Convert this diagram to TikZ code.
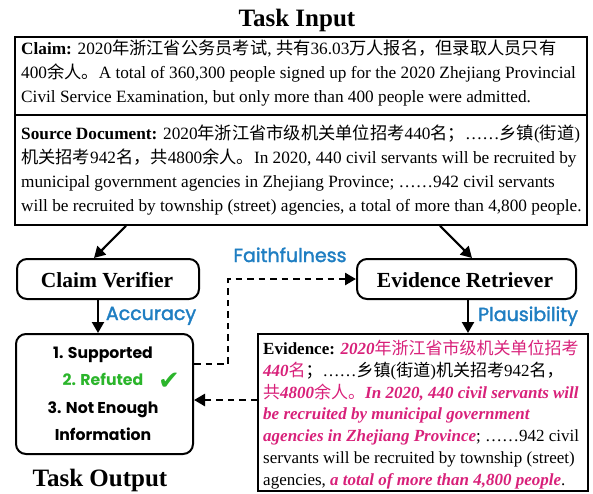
\documentclass[tikz,border=0pt]{standalone}
\usepackage{fontspec}
\setmainfont{Liberation Serif}
\newfontfamily\cjk{Noto Sans CJK SC}
\newfontfamily\popf{Poppins}
\newfontfamily\popm{Poppins}[FakeBold=1.8]
\newfontfamily\symf{DejaVu Sans}
\usetikzlibrary{arrows.meta}
\definecolor{pinkc}{HTML}{D8217A}
\definecolor{bluec}{HTML}{1F7EC2}
\definecolor{greenc}{HTML}{2BB52B}
\newcommand{\zh}[1]{{\cjk #1}}
\newcommand{\hlx}[1]{{\bfseries\itshape #1}}
\newcommand{\hlp}[1]{\textcolor{pinkc}{#1}}
\begin{document}
\begin{tikzpicture}[x=1pt,y=-1pt,
  sqbox/.style={draw,line width=1.8pt,inner sep=0pt,anchor=north west},
  rbox/.style={draw,line width=2pt,rounded corners=10pt,inner sep=0pt,anchor=north west},
  bodytext/.style={anchor=base west,align=left,inner sep=0pt,font=\fontsize{17.25}{24}\selectfont},
  evtext/.style={anchor=base west,align=left,inner sep=0pt,font=\fontsize{17}{21.7}\selectfont},
  title/.style={anchor=base,inner sep=0pt,font=\fontsize{25}{25}\selectfont\bfseries},
  modtext/.style={anchor=base,inner sep=0pt,font=\fontsize{21.5}{21.5}\selectfont\bfseries},
  metric/.style={anchor=base,inner sep=0pt,text=bluec,font=\fontsize{19}{19}\selectfont\popm},
  listtext/.style={anchor=base,inner sep=0pt,font=\fontsize{15.7}{15.7}\selectfont\popf\bfseries},
  solidarrow/.style={line width=2.2pt,-{Triangle[length=11pt,width=12pt]}},
  dasharrow/.style={line width=2.6pt,dash pattern=on 6.5pt off 5pt,-{Triangle[length=11pt,width=12pt]}}
]
\useasboundingbox (0,0) rectangle (593,493);

% Task input
\node[title] (ti) at (297,26) {Task Input};
\node[sqbox,minimum width=572pt,minimum height=78pt] (claimbox) at (14,36) {};
\node[sqbox,minimum width=572pt,minimum height=110pt] (srcbox) at (14,114) {};
% base anchor = baseline of the last line
\node[bodytext] (claimtxt) at (21,102) {\textbf{Claim:} 2020\zh{年浙江省公务员考试}, \zh{共有}36.03\zh{万人报名，但录取人员只有}\\
400\zh{余人。}A total of 360,300 people signed up for the 2020 Zhejiang Provincial\\
Civil Service Examination, but only more than 400 people were admitted.};
\node[bodytext] (srctxt) at (21,211) {\textbf{Source Document:} 2020\zh{年浙江省市级机关单位招考}440\zh{名；}……\zh{乡镇}(\zh{街道})\\
\zh{机关招考}942\zh{名，共}4800\zh{余人。}In 2020, 440 civil servants will be recruited by\\
municipal government agencies in Zhejiang Province; ……942 civil servants\\
will be recruited by township (street) agencies, a total of more than 4,800 people.};

% Modules
\node[rbox,minimum width=182pt,minimum height=40pt] (cv) at (16,258) {};
\node[modtext] (cvt) at (107,287) {Claim Verifier};
\node[rbox,minimum width=219pt,minimum height=40pt] (er) at (356,258) {};
\node[modtext] (ert) at (465,287) {Evidence Retriever};

% Output
\node[rbox,minimum width=177pt,minimum height=120pt] (out) at (15,333) {};
\node[listtext] (l1) at (103,358) {1. Supported};
\node[listtext,text=greenc] (l2) at (103,385) {2. Refuted};
\node[anchor=base,inner sep=0pt,text=greenc,font=\fontsize{26}{26}\selectfont\symf] (chk) at (169,389) {✔};
\node[listtext] (l3) at (103,413) {3. Not Enough};
\node[listtext] (l4) at (103,440) {Information};
\node[title] (to) at (100,486) {Task Output};

% Evidence
\node[sqbox,minimum width=330pt,minimum height=157pt] (ev) at (257,333) {};
\node[evtext] (evtxt) at (263,485) {\textbf{Evidence:} \hlp{\hlx{2020}\zh{年浙江省市级机关单位招考}}\\
\hlp{\hlx{440}\zh{名}}\zh{；}……\zh{乡镇}(\zh{街道})\zh{机关招考}942\zh{名，}\\
\hlp{\zh{共}\hlx{4800}\zh{余人。}\hlx{In 2020, 440 civil servants will}}\\
\hlp{\hlx{be recruited by municipal government}}\\
\hlp{\hlx{agencies in Zhejiang Province}}; ……942 civil\\
servants will be recruited by township (street)\\
agencies, \hlp{\hlx{a total of more than 4,800 people}}.};

% metric labels
\node[metric] (acc) at (151,320) {Accuracy};
\node[metric] (fai) at (290,262) {Faithfulness};
\node[metric] (pla) at (528,321) {Plausibility};

% connectors
\draw[solidarrow] (srcbox.south -| 126,0) -- (cv.north -| 94,0);
\draw[solidarrow] (srcbox.south -| 440,0) -- (er.north -| 472,0);
\draw[solidarrow] (cv.south -| 98,0) -- (out.north -| 98,0);
\draw[solidarrow] (er.south -| 468,0) -- (ev.north -| 468,0);
\coordinate (f1) at (228,364);
\coordinate (f2) at (228,279);
\draw[dasharrow] (out.east |- f1) -- (f1) -- (f2) -- (er.west |- f2);
\draw[dasharrow] (ev.west |- 0,400) -- (out.east |- 0,400);
\end{tikzpicture}
\end{document}
